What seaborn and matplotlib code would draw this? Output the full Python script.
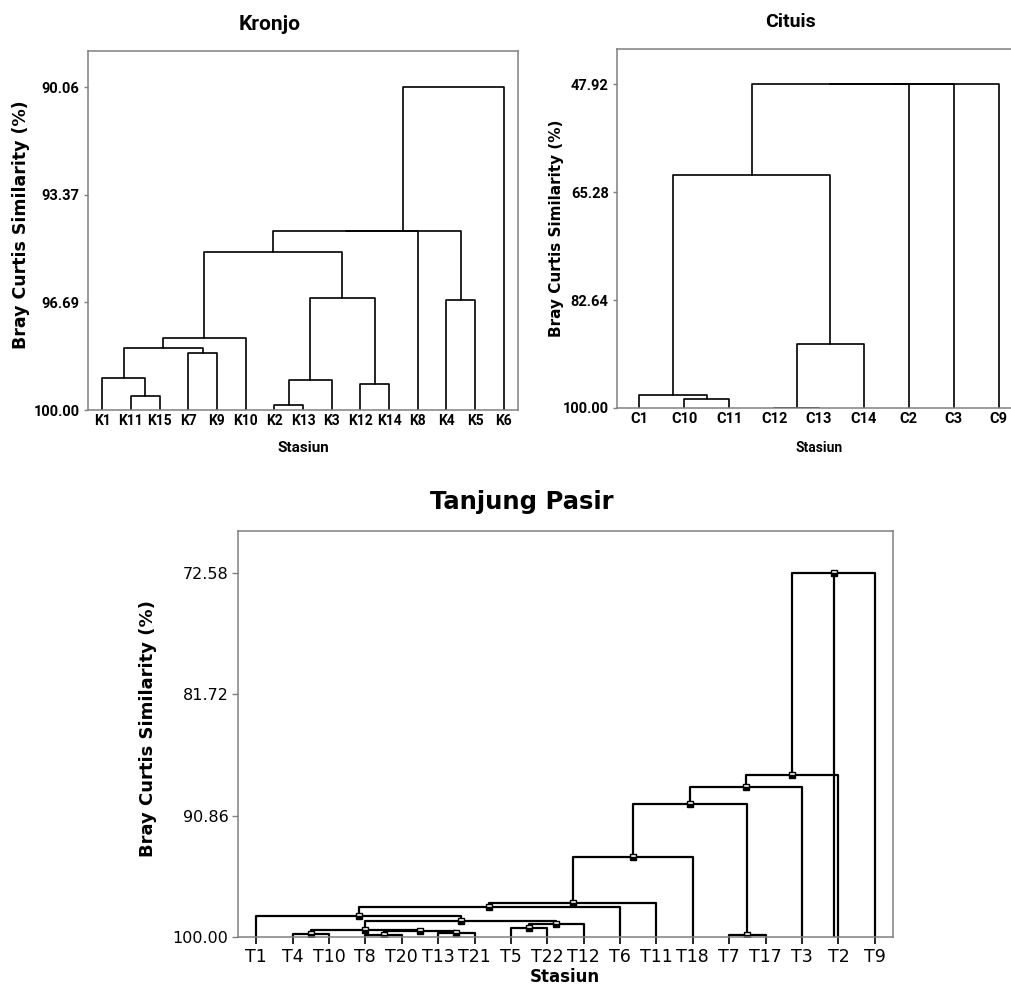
import numpy as np
import pandas as pd
import seaborn as sns
import matplotlib
matplotlib.use('Agg')
import matplotlib.pyplot as plt

# --- data (similarity levels) ---
kronjo_leaves = ['K1', 'K11', 'K15', 'K7', 'K9', 'K10', 'K2', 'K13', 'K3',
                 'K12', 'K14', 'K8', 'K4', 'K5', 'K6']
kronjo_a = ['K11', 'K1', 'K7', 'm1', 'm3', 'K2', 'm5', 'K12', 'm6', 'm4', 'K4', 'm9', 'm11', 'm12']
kronjo_b = ['K15', 'm0', 'K9', 'm2', 'K10', 'K13', 'K3', 'K14', 'm7', 'm8', 'K5', 'K8', 'm10', 'K6']
kronjo_sim = [99.56, 99.02, 98.25, 98.08, 97.78, 99.85, 99.07, 99.20, 96.55, 95.15,
              96.61, 94.50, 94.50, 90.06]
kronjo_ticks = [90.06, 93.37, 96.69, 100.00]

cituis_leaves = ['C1', 'C10', 'C11', 'C12', 'C13', 'C14', 'C2', 'C3', 'C9']
cituis_a = ['C10', 'C1', 'C12', 'm2', 'm1', 'm4', 'm5', 'm6']
cituis_b = ['C11', 'm0', 'C13', 'C14', 'm3', 'C2', 'C3', 'C9']
cituis_sim = [98.50, 97.86, 99.95, 89.65, 62.51, 47.92, 47.92, 47.92]
cituis_ticks = [47.92, 65.28, 82.64, 100.00]

tp_leaves = ['T1', 'T4', 'T10', 'T8', 'T20', 'T13', 'T21', 'T5', 'T22', 'T12',
             'T6', 'T11', 'T18', 'T7', 'T17', 'T3', 'T2', 'T9']
tp_a = ['T4', 'T8', 'T13', 'm1', 'm0', 'T5', 'm5', 'm4', 'T1', 'm8', 'm9', 'm10',
        'T7', 'm11', 'm13', 'm14', 'm15']
tp_b = ['T10', 'T20', 'T21', 'm2', 'm3', 'T22', 'T12', 'm6', 'm7', 'T6', 'T11', 'T18',
        'T17', 'm12', 'T3', 'T2', 'T9']
tp_sim = [99.80, 99.88, 99.72, 99.55, 99.50, 99.35, 99.05, 98.78, 98.42, 97.72, 97.45,
          94.01, 99.85, 89.96, 88.75, 87.78, 72.58]
tp_ticks = [72.58, 81.72, 90.86, 100.00]

W, H = 1012, 986
narrow = ['Roboto', 'DejaVu Sans']


def tree(leaves, left, right, sim):
    pos = {n: i + 1 for i, n in enumerate(leaves)}
    hgt = {n: 100.0 for n in leaves}
    rows, nodes = [], []
    for k, (a, b, h) in enumerate(zip(left, right, sim)):
        for x, y in [(pos[a], hgt[a]), (pos[a], h), (pos[b], h), (pos[b], hgt[b])]:
            rows.append((k, x, y))
        pos[f'm{k}'] = (pos[a] + pos[b]) / 2
        hgt[f'm{k}'] = h
        nodes.append((pos[f'm{k}'], h))
    return pd.DataFrame(rows, columns=['seg', 'x', 'y']), pd.DataFrame(nodes, columns=['x', 'y'])


def box(l, t, r, b):
    return [l / W, 1 - b / H, (r - l) / W, (b - t) / H]


def ftext(x, y, s, **kw):
    fig.text(x / W, 1 - y / H, s, ha='center', va='center', color='black', **kw)


sns.set_style('white')
plt.rcParams['font.family'] = ['DejaVu Sans']
plt.rcParams['text.color'] = 'black'
plt.rcParams['xtick.labelcolor'] = 'black'
plt.rcParams['ytick.labelcolor'] = 'black'

fig = plt.figure(figsize=(W / 100, H / 100), dpi=100)


def panel(rect, leaves, a, b, sim, ticks, top, lw, font, fs_tick, fs_leaf, bold, ytick_len, xtick_len):
    ax = fig.add_axes(rect)
    seg, nodes = tree(leaves, a, b, sim)
    sns.lineplot(data=seg, x='x', y='y', units='seg', estimator=None, sort=False,
                 color='black', lw=lw, ax=ax, legend=False)
    ax.set_xlim(0.5, len(leaves) + 0.5)
    ax.set_ylim(100, top)
    ax.set_yticks(ticks)
    ax.set_yticklabels([f'{t:.2f}' for t in ticks], family=font, fontsize=fs_tick,
                       fontweight='bold' if bold else 'normal')
    ax.set_xticks(range(1, len(leaves) + 1))
    ax.set_xticklabels(leaves, family=font, fontsize=fs_leaf,
                       fontweight='bold' if bold else 'normal')
    ax.set_xlabel('')
    ax.set_ylabel('')
    for s in ax.spines.values():
        s.set_color('#808080')
        s.set_linewidth(1.1)
    ax.tick_params(axis='y', left=True, length=ytick_len, width=1, color='#808080', pad=3)
    ax.tick_params(axis='x', bottom=xtick_len > 0, length=xtick_len, width=1.2,
                   color='black', pad=3)
    return ax, nodes


# Kronjo
ax1, _ = panel(box(88, 51, 518, 410), kronjo_leaves, kronjo_a, kronjo_b, kronjo_sim,
               kronjo_ticks, 88.95, 1.2, narrow, 10.5, 10, True, 3, 0)
ftext(270, 25, 'Kronjo', family=narrow, fontsize=15, fontweight='bold')
ftext(303, 448, 'Stasiun', family=narrow, fontsize=11, fontweight='bold')
ftext(21, 225, 'Bray Curtis Similarity (%)', rotation=90, fontsize=12.5, fontweight='bold')

# Cituis
ax2, _ = panel(box(617, 49, 1021, 408), cituis_leaves, cituis_a, cituis_b, cituis_sim,
               cituis_ticks, 42.24, 1.2, narrow, 10.5, 10.5, True, 3, 0)
ftext(790, 22, 'Cituis', family=narrow, fontsize=14, fontweight='bold')
ftext(819, 448, 'Stasiun', family=narrow, fontsize=10, fontweight='bold')
ftext(556, 228, 'Bray Curtis Similarity (%)', rotation=90, fontsize=11, fontweight='bold')

# Tanjung Pasir
ax3, nodes = panel(box(238, 531, 893, 937), tp_leaves, tp_a, tp_b, tp_sim,
                   tp_ticks, 69.45, 1.6, ['DejaVu Sans'], 11.5, 12.5, False, 4, 5)
root = nodes.iloc[-1]
ax3.plot([root.x, root.x], [root.y, 100], color='black', lw=1.6)
ax3.plot(nodes.x, nodes.y, ls='none', marker='s', ms=5, fillstyle='bottom',
         markerfacecolor='black', markerfacecoloralt='white', markeredgecolor='black',
         mew=1)
ftext(522, 502, 'Tanjung Pasir', fontsize=17.5, fontweight='bold')
ftext(565, 977, 'Stasiun', fontsize=12, fontweight='bold')
ftext(148, 729, 'Bray Curtis Similarity (%)', rotation=90, fontsize=13, fontweight='bold')

fig.savefig('out.png', dpi=100)
